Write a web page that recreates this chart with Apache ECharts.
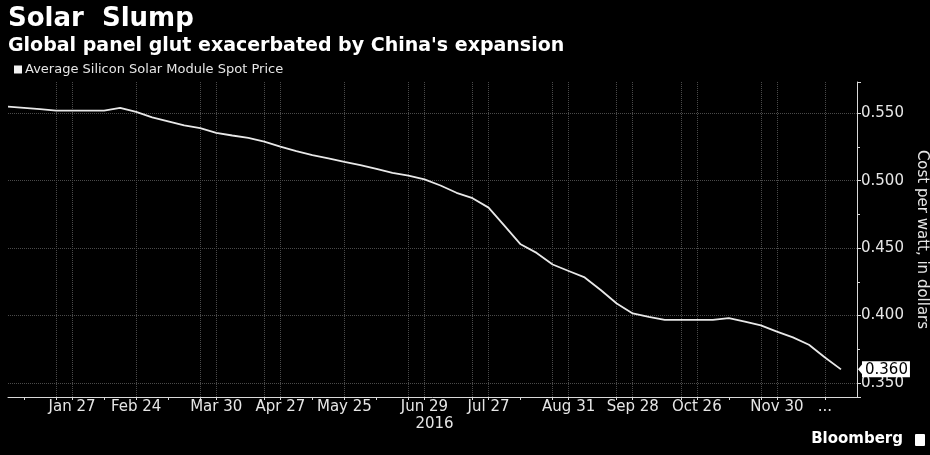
<!DOCTYPE html>
<html>
<head>
<meta charset="utf-8">
<script src="https://cdn.jsdelivr.net/npm/echarts@6/dist/echarts.min.js"></script>
<style>
html,body{margin:0;padding:0;background:#000;}
#chart{width:930px;height:455px;}
</style>
</head>
<body>
<div id="chart"></div>
<script>
// Weekly dates (Wednesdays)
var dates = [
  '2015-12-30','2016-01-06','2016-01-13','2016-01-20','2016-01-27',
  '2016-02-03','2016-02-10','2016-02-17','2016-02-24',
  '2016-03-02','2016-03-09','2016-03-16','2016-03-23','2016-03-30',
  '2016-04-06','2016-04-13','2016-04-20','2016-04-27',
  '2016-05-04','2016-05-11','2016-05-18','2016-05-25',
  '2016-06-01','2016-06-08','2016-06-15','2016-06-22','2016-06-29',
  '2016-07-06','2016-07-13','2016-07-20','2016-07-27',
  '2016-08-03','2016-08-10','2016-08-17','2016-08-24','2016-08-31',
  '2016-09-07','2016-09-14','2016-09-21','2016-09-28',
  '2016-10-05','2016-10-12','2016-10-19','2016-10-26',
  '2016-11-02','2016-11-09','2016-11-16','2016-11-23','2016-11-30',
  '2016-12-07','2016-12-14','2016-12-21','2016-12-28','2017-01-04'
];
// Average Silicon Solar Module Spot Price (USD per watt)
var prices = [
  0.555,0.554,0.553,0.552,0.552,0.552,0.552,0.554,0.551,0.547,
  0.544,0.541,0.539,0.5355,0.5335,0.5317,0.529,0.5252,0.522,0.519,
  0.5165,0.514,0.5116,0.5087,0.5057,0.5037,0.501,0.4964,0.491,0.487,
  0.480,0.4664,0.4528,0.4464,0.4378,0.433,0.4282,0.4189,0.4089,0.4015,
  0.399,0.3967,0.3967,0.3967,0.3967,0.398,0.3954,0.3926,0.388,0.3837,
  0.3783,0.3688,0.360,null
];
var labelDates = ['2016-01-27','2016-02-24','2016-03-30','2016-04-27','2016-05-25','2016-06-29','2016-07-27','2016-08-31','2016-09-28','2016-10-26','2016-11-30','2016-12-21'];
var labelTexts = ['Jan 27','Feb 24','Mar 30','Apr 27','May 25','Jun 29','Jul 27','Aug 31','Sep 28','Oct 26','Nov 30','...'];
var yearLabelDate = '2016-06-29';
var yearLabel = '2016';
var gridDates = ['2016-01-20','2016-01-27','2016-02-24','2016-03-23','2016-03-30','2016-04-20','2016-04-27','2016-05-25','2016-06-22','2016-06-29','2016-07-20','2016-07-27','2016-08-24','2016-08-31','2016-09-21','2016-09-28','2016-10-19','2016-10-26','2016-11-23','2016-11-30','2016-12-21'];
var tickDates = ['2016-01-06','2016-02-10','2016-03-09','2016-05-11','2016-06-08','2016-08-10','2016-11-09'].concat(gridDates);
var yMin = 0.3395, yMax = 0.5732;

var seriesName = 'Average Silicon Solar Module Spot Price';
var lastValue = prices.filter(function(v){return v!=null;}).slice(-1)[0];

var FONT = 'DejaVu Sans';
var chart = echarts.init(document.getElementById('chart'));
var baseGraphics = [
  {id: 'brand', type: 'text', right: 27, bottom: 8, style: {text: 'Bloomberg', fill: '#fff', font: 'bold 15px "DejaVu Sans"'}},
  {id: 'brandIcon', type: 'rect', right: 5, bottom: 9, shape: {width: 10, height: 12, r: 1}, style: {fill: '#fff'}}
];
chart.setOption({
  backgroundColor: '#000',
  animation: false,
  textStyle: {fontFamily: FONT},
  title: {
    left: 8, top: 6, padding: 0, itemGap: 5,
    text: 'Solar  Slump',
    textStyle: {color: '#fff', fontSize: 26, fontWeight: 'bold', fontFamily: FONT},
    subtext: "Global panel glut exacerbated by China's expansion",
    subtextStyle: {color: '#fff', fontSize: 19, fontWeight: 'bold', fontFamily: FONT}
  },
  legend: {
    left: 14, top: 63, padding: 0,
    icon: 'rect', itemWidth: 8, itemHeight: 8, itemGap: 4,
    textStyle: {color: '#e6e6e6', fontSize: 13, fontFamily: FONT, padding: [0,0,0,-2]},
    data: [seriesName]
  },
  grid: {left: 8, right: 73, top: 82, bottom: 58, containLabel: false, outerBoundsMode: 'none'},
  xAxis: {
    type: 'category',
    data: dates,
    boundaryGap: false,
    axisLine: {lineStyle: {color: '#d9d9d9', width: 1}},
    axisTick: {
      show: true, length: 3,
      interval: function(i, v){ return tickDates.indexOf(v) >= 0; },
      lineStyle: {color: '#d9d9d9'}
    },
    axisLabel: {
      color: '#e6e6e6', fontSize: 15, margin: 3, fontFamily: FONT,
      interval: function(i, v){ return labelDates.indexOf(v) >= 0; },
      formatter: function(v){
        var k = labelDates.indexOf(v);
        if (k < 0) return '';
        if (v === yearLabelDate) return labelTexts[k] + '\n{yr|' + yearLabel + '}';
        return labelTexts[k];
      },
      rich: {yr: {color: '#e6e6e6', fontSize: 15, fontFamily: FONT, padding: [2,0,0,20]}}
    },
    splitLine: {
      show: true,
      interval: function(i, v){ return gridDates.indexOf(v) >= 0; },
      lineStyle: {color: '#4a4a4a', type: 'dotted', width: 1}
    }
  },
  yAxis: {
    type: 'value',
    position: 'right',
    min: yMin, max: yMax,
    name: 'Cost per watt, in dollars',
    nameLocation: 'middle', nameRotate: -90, nameGap: 56,
    nameTextStyle: {color: '#e6e6e6', fontSize: 15, fontFamily: FONT},
    axisLine: {show: true, lineStyle: {color: '#d9d9d9', width: 1}},
    axisTick: {show: true, length: 4, lineStyle: {color: '#d9d9d9'}},
    minorTick: {show: true, splitNumber: 2, length: 3, lineStyle: {color: '#d9d9d9'}},
    axisLabel: {
      color: '#e6e6e6', fontSize: 15, margin: 4, fontFamily: FONT,
      showMinLabel: false, showMaxLabel: false,
      formatter: function(v){ return v.toFixed(3); }
    },
    splitLine: {show: true, showMinLine: false, showMaxLine: false, lineStyle: {color: '#4a4a4a', type: 'dotted', width: 1}},
    axisPointer: {
      show: true, type: 'none', value: lastValue, status: 'show', snap: false, triggerTooltip: false,
      label: {
        show: true, backgroundColor: '#fff', color: '#000', fontSize: 15, fontFamily: FONT,
        padding: [1, 2, 0, 3], margin: 5, borderRadius: 0,
        formatter: function(p){ return Number(p.value).toFixed(3); }
      }
    }
  },
  axisPointer: {triggerOn: 'none'},
  series: [{
    name: seriesName,
    type: 'line',
    data: prices,
    showSymbol: false,
    symbol: 'none',
    color: '#f2f2f2',
    lineStyle: {color: '#e8e8e8', width: 1.8},
    silent: true
  }],
  graphic: baseGraphics
});
// small pointer triangle at the last-value tag, placed through the axis scale
var py = chart.convertToPixel({yAxisIndex: 0}, lastValue);
var axisX = chart.convertToPixel({xAxisIndex: 0}, dates[dates.length - 1]);
chart.setOption({graphic: baseGraphics.concat([{
  id: 'tagArrow', type: 'polygon', shape: {points: [[axisX + 1, py], [axisX + 6, py - 6], [axisX + 6, py + 6]]},
  style: {fill: '#fff'}, z: 100
}])});
</script>
</body>
</html>
